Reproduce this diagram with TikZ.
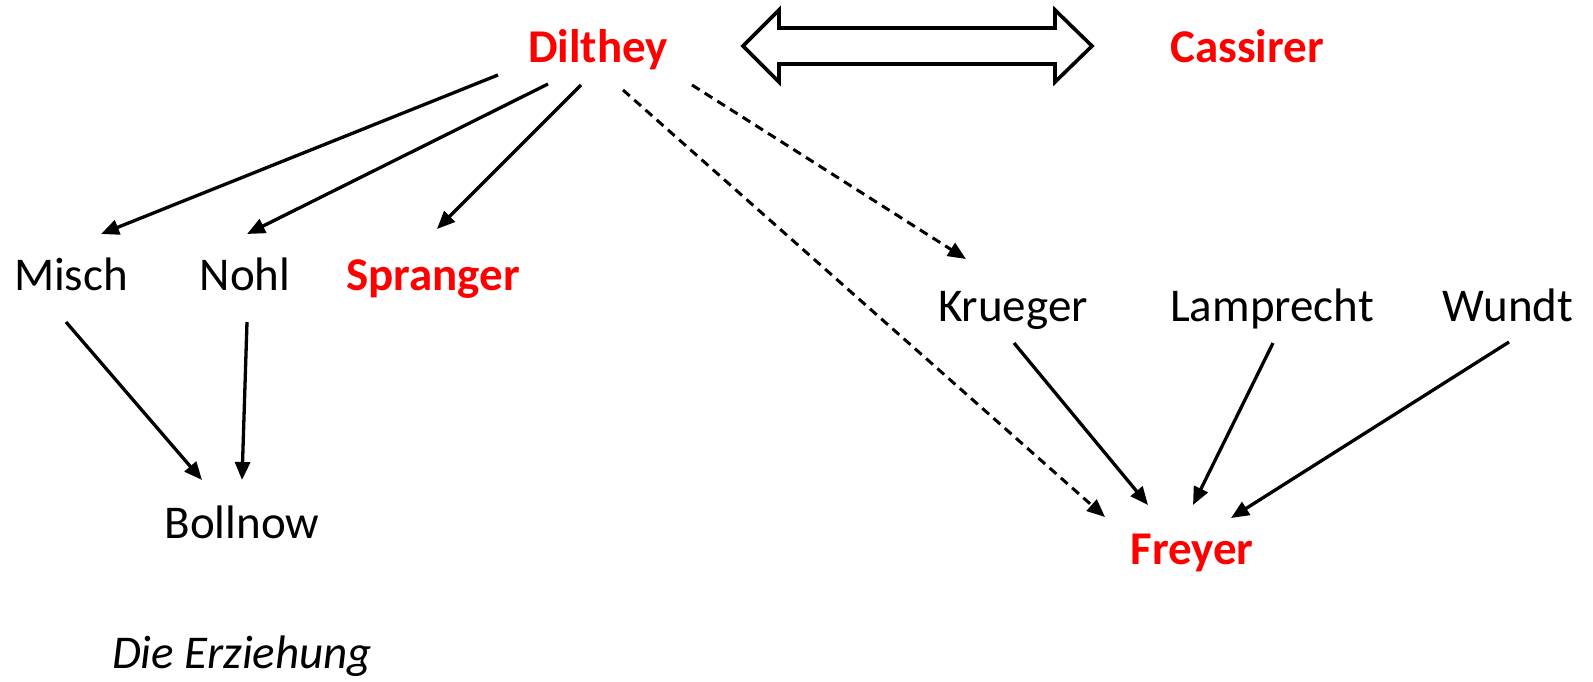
\documentclass[tikz,border=0pt]{standalone}
\usepackage{fontspec}
\setmainfont{Carlito}
\usetikzlibrary{arrows.meta,calc}

\definecolor{hot}{RGB}{255,0,0}

\tikzset{
  person/.style={inner sep=0pt, anchor=base, font=\fontsize{47}{56}\selectfont},
  keyperson/.style={person, text=hot, font=\fontsize{47}{56}\selectfont\bfseries},
  link/.style={line width=3.3pt, -{Triangle[length=18pt,width=15pt]}},
  weak/.style={line width=3pt, dash pattern=on 9pt off 6pt, -{Triangle[length=18pt,width=15pt]}},
}

\begin{document}
\begin{tikzpicture}[x=1pt, y=-1pt]
  \useasboundingbox (0,0) rectangle (1593,681);

  % names
  \node[keyperson] (dil) at (598,62)  {Dilthey};
  \node[keyperson] (cas) at (1247,62) {Cassirer};
  \node[person]    (mis) at (71,290)  {Misch};
  \node[person]    (noh) at (245,290) {Nohl};
  \node[keyperson] (spr) at (433,290) {Spranger};
  \node[person]    (kru) at (1013,321) {Krueger};
  \node[person]    (lam) at (1272,321) {Lamprecht};
  \node[person]    (wun) at (1508,321) {Wundt};
  \node[person]    (bol) at (242,538) {Bollnow};
  \node[keyperson] (fre) at (1192,564) {Freyer};
  \node[person, font=\fontsize{47}{56}\selectfont\itshape] (erz) at (242,668) {Die Erziehung};

  % two-headed block arrow between Dilthey and Cassirer
  \draw[line width=3.6pt, line join=miter, fill=white]
    (743,46) -- (779,10) -- (779,28) -- (1055,28) -- (1055,10) -- (1092,46)
    -- (1055,82) -- (1055,64) -- (779,64) -- (779,82) -- cycle;

  % Dilthey's pupils
  \draw[link] ($(dil.base)+(-100,13)$) -- ($(mis.base)+(30,-56)$);
  \draw[link] ($(dil.base)+(-50,22)$)  -- ($(noh.base)+(2,-56)$);
  \draw[link] ($(dil.base)+(-17,23)$)  -- ($(spr.base)+(4,-61)$);

  % indirect influences
  \draw[weak] ($(dil.base)+(25,28)$) -- ($(fre.base)+(-87,-47)$);
  \draw[weak] ($(dil.base)+(94,23)$) -- ($(kru.base)+(-47,-62)$);

  % towards Bollnow
  \draw[link] ($(mis.base)+(-5,32)$) -- ($(bol.base)+(-40,-58)$);
  \draw[link] ($(noh.base)+(2,32)$)  -- ($(bol.base)+(0,-58)$);

  % towards Freyer
  \draw[link] ($(kru.base)+(1,22)$) -- ($(fre.base)+(-44,-59)$);
  \draw[link] ($(lam.base)+(1,22)$) -- ($(fre.base)+(1,-59)$);
  \draw[link] ($(wun.base)+(1,21)$) -- ($(fre.base)+(39,-46)$);
\end{tikzpicture}
\end{document}
